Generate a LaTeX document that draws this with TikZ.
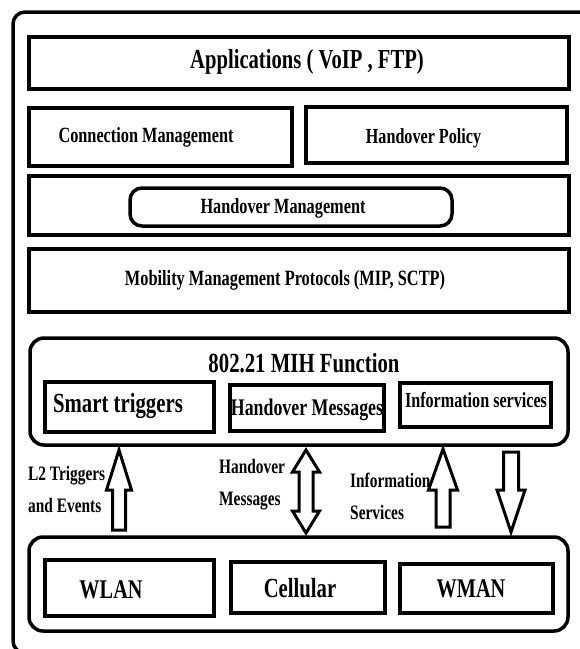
\documentclass[tikz,border=0pt]{standalone}
\usepackage{fontspec}
\setmainfont{Liberation Serif}[FakeStretch=0.75]
\usepackage{tikz}

\begin{document}
\begin{tikzpicture}[x=1pt, y=-1pt,
    box/.style={draw, line width=3.5pt, inner sep=0pt},
    rbox/.style={box, rounded corners=14pt},
    txt/.style={anchor=base, inner sep=0pt, font=\bfseries\fontsize{#1}{#1}\selectfont},
    lbl/.style={txt=#1, anchor=base west},
    blk/.style={draw, line width=3pt, line join=miter}]
    \useasboundingbox (0,0) rectangle (580,649);
    \clip (0,0) rectangle (580,649);

    % Outer frame
    \draw[line width=3.5pt, rounded corners=12pt] (13,12) rectangle (600,653);

    % Upper layers
    \node[box, minimum width=540pt, minimum height=52pt] (apps) at (299,63) {};
    \node[txt=27.5] (appst) at (307,68) {Applications ( VoIP , FTP)};

    \node[box, minimum width=263pt, minimum height=58pt] (conn) at (160.5,137) {};
    \node[txt=21.7] (connt) at (146,142) {Connection Management};
    \node[box, minimum width=261pt, minimum height=56pt] (policy) at (436.5,135) {};
    \node[txt=21.5] (policyt) at (423.5,143) {Handover Policy};

    \node[box, minimum width=540pt, minimum height=59pt] (hoband) at (299,205.5) {};
    \node[box, rounded corners=12pt, minimum width=322pt, minimum height=38pt] (hom) at (291,207) {};
    \node[txt=21.7] (homt) at (283,213) {Handover Management};

    \node[box, minimum width=540pt, minimum height=63pt] (mob) at (299,280.5) {};
    \node[txt=21.8] (mobt) at (285,285) {Mobility Management Protocols (MIP, SCTP)};

    % MIH function
    \node[rbox, minimum width=538pt, minimum height=107pt] (mih) at (299,391.5) {};
    \node[txt=27.7] (miht) at (304,372) {802.21 MIH Function};
    \node[box, minimum width=169pt, minimum height=50pt] (smart) at (129.5,407) {};
    \node[txt=27.7] (smartt) at (118,412) {Smart triggers};
    \node[box, minimum width=154pt, minimum height=46pt] (hmsg) at (307,408) {};
    \node[txt=23.8] (hmsgt) at (307,415) {Handover Messages};
    \node[box, minimum width=151pt, minimum height=44pt] (info) at (475.5,405) {};
    \node[txt=21.5] (infot) at (476,407) {Information services};

    % Block arrows
    \draw[blk] (119,450) -- (131.5,490) -- (125.5,490) -- (125.5,530) -- (112.5,530)
        -- (112.5,490) -- (106.5,490) -- cycle;
    \draw[blk] (306,450) -- (319.5,472) -- (313,472) -- (313,511) -- (319.5,511) -- (306,533)
        -- (292.5,511) -- (299,511) -- (299,472) -- (292.5,472) -- cycle;
    \draw[blk] (443,449) -- (457.5,490) -- (450,490) -- (450,527) -- (436,527)
        -- (436,490) -- (428.5,490) -- cycle;
    \draw[blk] (503.5,452) -- (518.5,452) -- (518.5,490) -- (525,490) -- (511,532)
        -- (497,490) -- (503.5,490) -- cycle;

    % Arrow labels
    \node[lbl=20.5] (l2a) at (28,480) {L2 Triggers};
    \node[lbl=20.5] (l2b) at (28,512) {and Events};
    \node[lbl=20.5] (hma) at (219,473) {Handover};
    \node[lbl=20.5] (hmb) at (219,505) {Messages};
    \node[lbl=20.5] (isa) at (350,487) {Information};
    \node[lbl=20.5] (isb) at (350,519) {Services};

    % Access networks
    \node[rbox, minimum width=539pt, minimum height=94pt] (nets) at (298.5,584) {};
    \node[box, minimum width=169pt, minimum height=56pt] (wlan) at (129.5,588) {};
    \node[txt=27] (wlant) at (111,598) {WLAN};
    \node[box, minimum width=154pt, minimum height=51pt] (cell) at (308,587.5) {};
    \node[txt=27.6] (cellt) at (300,597) {Cellular};
    \node[box, minimum width=153pt, minimum height=49pt] (wman) at (476.5,588.5) {};
    \node[txt=27] (wmant) at (471,597) {WMAN};

\end{tikzpicture}
\end{document}
